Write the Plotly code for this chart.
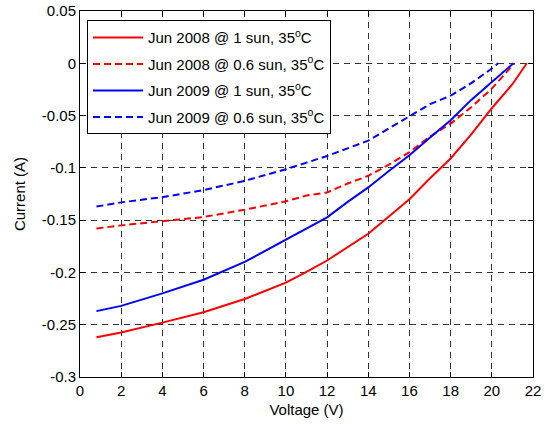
import plotly.graph_objects as go

# Jun 2008 @ 1 sun
v_08_1 = [0.8, 2, 4, 6, 8, 10, 11, 12, 14, 15.4, 16, 17, 18, 19, 20, 21, 21.7]
i_08_1 = [-0.262, -0.2575, -0.248, -0.238, -0.2254, -0.2098, -0.1995, -0.1886, -0.163,
          -0.1405, -0.130, -0.110, -0.091, -0.068, -0.043, -0.020, 0.0]

# Jun 2008 @ 0.6 sun
v_08_06 = [0.8, 2, 4, 6, 8, 10, 11, 12, 13, 14, 15, 16, 17, 18, 19, 20, 21.1]
i_08_06 = [-0.158, -0.155, -0.151, -0.147, -0.140, -0.132, -0.1265, -0.1235, -0.115,
           -0.1076, -0.097, -0.085, -0.070, -0.0577, -0.042, -0.0242, 0.0]

# Jun 2009 @ 1 sun
v_09_1 = [0.8, 2, 4, 6, 8, 10, 11, 12, 13, 14, 15, 16, 17, 18, 19, 20, 21.05]
i_09_1 = [-0.237, -0.232, -0.220, -0.207, -0.190, -0.169, -0.158, -0.1473, -0.1325,
          -0.1187, -0.103, -0.088, -0.071, -0.0545, -0.035, -0.018, 0.0]

# Jun 2009 @ 0.6 sun
v_09_06 = [0.8, 2, 4, 6, 8, 10, 11, 12, 14, 16, 17, 18, 19, 20, 20.3]
i_09_06 = [-0.137, -0.133, -0.128, -0.1213, -0.1124, -0.1013, -0.095, -0.0886, -0.074,
           -0.051, -0.039, -0.031, -0.019, -0.005, 0.0]

names = ["Jun 2008 @ 1 sun, 35<sup>o</sup>C", "Jun 2008 @ 0.6 sun, 35<sup>o</sup>C",
         "Jun 2009 @ 1 sun, 35<sup>o</sup>C", "Jun 2009 @ 0.6 sun, 35<sup>o</sup>C"]

x_ticks = list(range(0, 23, 2))
y_ticks = [0.05, 0, -0.05, -0.1, -0.15, -0.2, -0.25, -0.3]
y_tick_text = ["0.05", "0", "-0.05", "-0.1", "-0.15", "-0.2", "-0.25", "-0.3"]

FONT = "Liberation Sans, Arial, sans-serif"
dash = "7px,4px"

fig = go.Figure()
series = [(v_08_1, i_08_1, "red", "solid"),
          (v_08_06, i_08_06, "red", dash),
          (v_09_1, i_09_1, "blue", "solid"),
          (v_09_06, i_09_06, "blue", dash)]
for k, ((vx, iy, col, d), nm) in enumerate(zip(series, names)):
    fig.add_trace(go.Scatter(x=vx, y=iy, mode="lines", name=nm, legendgroup=f"g{k}",
                             line=dict(color=col, width=2, dash=d)))

axis_common = dict(showline=True, linecolor="black", linewidth=1, mirror="ticks",
                   ticks="inside", ticklen=5, tickcolor="black", automargin=False,
                   showgrid=True, gridcolor="#333333", gridwidth=1, griddash="6px,5px",
                   zeroline=False, tickfont=dict(family=FONT, size=15, color="black"))

fig.update_xaxes(range=[0, 22], tickvals=x_ticks, ticktext=[str(t) for t in x_ticks],
                 title=dict(text="Voltage (V)", font=dict(family=FONT, size=15, color="black"),
                            standoff=6),
                 **axis_common)
fig.update_yaxes(range=[-0.3, 0.05], tickvals=y_ticks, ticktext=y_tick_text,
                 title=dict(text="Current (A)", font=dict(family=FONT, size=15, color="black"),
                            standoff=12),
                 **axis_common)

fig.update_layout(
    width=545, height=424,
    margin=dict(l=80, r=12, t=11, b=47),
    plot_bgcolor="white", paper_bgcolor="white",
    font=dict(family=FONT, size=15, color="black"),
    showlegend=True,
    legend=dict(x=0.0155, y=0.975, xanchor="left", yanchor="top",
                bgcolor="white", bordercolor="black", borderwidth=1,
                font=dict(family=FONT, size=15, color="black"),
                traceorder="grouped", tracegroupgap=4, itemwidth=50),
)

fig.write_html("out.html", config={"displayModeBar": False},
               post_script="document.body.style.margin='0';")
